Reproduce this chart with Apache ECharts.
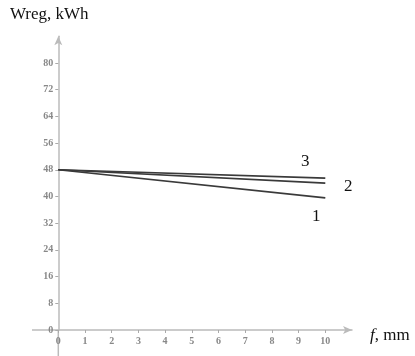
<!DOCTYPE html>
<html><head><meta charset="utf-8">
<script src="https://cdn.jsdelivr.net/npm/echarts@6/dist/echarts.min.js"></script>
<style>html,body{margin:0;padding:0;background:#fff}#c{width:415px;height:356px}</style>
</head><body><div id="c"></div>
<script>
const xValues = [0, 10];
const line1 = [48, 39.6];
const line2 = [48, 44];
const line3 = [48, 45.5];
const xTicks = [0,1,2,3,4,5,6,7,8,9,10];
const yTicks = [0,8,16,24,32,40,48,56,64,72,80];
const seriesNames = ['1','2','3'];

const chart = echarts.init(document.getElementById('c'), null, {renderer:'canvas'});
const lbl = {color:'#888', fontFamily:'Liberation Serif', fontSize:10, fontWeight:'bold'};
function mk(name, vals){
  return {name, type:'line', data: xValues.map((x,i)=>[x, vals[i]]), symbol:'none',
    lineStyle:{color:'#3a3a3a', width:1.6}, silent:true};
}
const GL = 58.3, GB = 26;
chart.setOption({
  animation:false,
  grid:{left:GL, right:63, top:36.3, bottom:GB, containLabel:false, outerBoundsMode:'none'},
  xAxis:{type:'value', min:0, max:11, interval:1,
    axisLine:{onZero:false, lineStyle:{color:'#bbb', width:1.5}, symbol:['none','arrow'], symbolSize:[6,9]},
    axisTick:{show:true, length:3, customValues:xTicks, lineStyle:{color:'#aaa'}},
    axisLabel:Object.assign({customValues:xTicks, margin:6}, lbl),
    splitLine:{show:false}},
  yAxis:{type:'value', min:0, max:88, interval:8,
    axisLine:{onZero:false, lineStyle:{color:'#bbb', width:1.5}, symbol:['none','arrow'], symbolSize:[6,9]},
    axisTick:{show:true, length:3, customValues:yTicks, lineStyle:{color:'#aaa'}},
    axisLabel:Object.assign({customValues:yTicks, margin:5}, lbl),
    splitLine:{show:false}},
  series:[mk(seriesNames[0], line1), mk(seriesNames[1], line2), mk(seriesNames[2], line3)],
  graphic:[
    {type:'line', silent:true, shape:{x1:32, y1:356-GB, x2:GL, y2:356-GB}, style:{stroke:'#bbb', lineWidth:1.5}},
    {type:'line', silent:true, shape:{x1:GL, y1:356-GB, x2:GL, y2:356}, style:{stroke:'#bbb', lineWidth:1.5}},
    {type:'text', left:10, top:6, style:{text:'Wreg, kWh', font:'17px "Liberation Serif"', fill:'#111'}},
    {type:'text', left:370, top:327, style:{rich:{i:{fontStyle:'italic', fontFamily:'Liberation Serif', fontSize:17, fill:'#111'}, n:{fontFamily:'Liberation Serif', fontSize:17, fill:'#111'}}, text:'{i|f}{n|, mm}'}},
    {type:'text', left:301, top:153, style:{text:'3', font:'17px "Liberation Serif"', fill:'#111'}},
    {type:'text', left:344, top:178, style:{text:'2', font:'17px "Liberation Serif"', fill:'#111'}},
    {type:'text', left:312, top:208, style:{text:'1', font:'17px "Liberation Serif"', fill:'#111'}}
  ]
});
</script></body></html>
